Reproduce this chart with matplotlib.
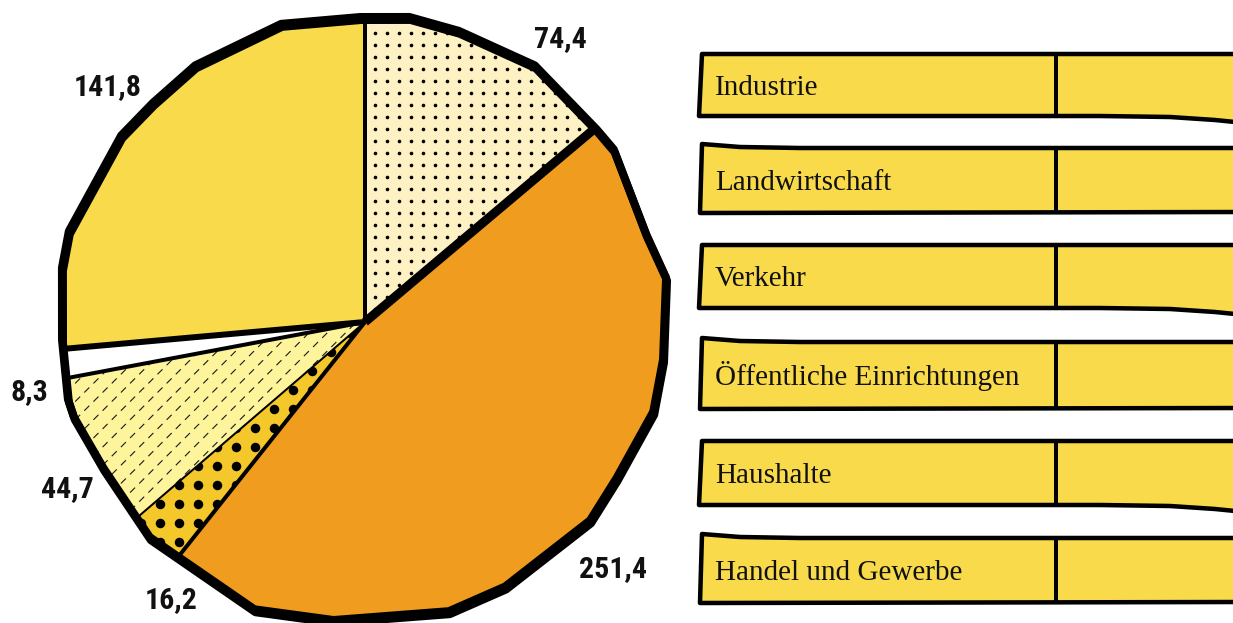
import numpy as np
import matplotlib
matplotlib.use('Agg')
import matplotlib.pyplot as plt
from matplotlib.patches import Polygon, PathPatch
from matplotlib.path import Path
from matplotlib.collections import LineCollection

# Werte im Uhrzeigersinn ab 12 Uhr
werte = [74.4, 251.4, 16.2, 44.7, 8.3, 141.8]
farben = ['#FEF1C4', '#EF9C1F', '#F4C72A', '#FDF49B', '#FFFFFF', '#F9DA4A']
muster = ['punkte', None, 'grosse_punkte', 'striche', None, None]
trennlinien_px = [4, 9, 4, 2, 4, 6]   # Linie vor dem jeweiligen Segment
label_pos = [(560, 47), (613, 577), (171, 608), (67, 497), (29, 400), (108, 95)]

kategorien = ['Industrie', 'Landwirtschaft', 'Verkehr',
              'Öffentliche Einrichtungen', 'Haushalte', 'Handel und Gewerbe']
kasten_oben = [54, 148, 245, 342, 441, 538]
kasten_unten = [116, 212, 308, 408, 505, 602]

B, H = 1233, 623
PT = 0.72  # Punkt pro Pixel bei 100 dpi
mitte = np.array([365.0, 322.0])

# handgezeichneter Umriss (Pixelkoordinaten, Aussenkante)
umriss = np.array([
    (360, 13), (410, 13), (460, 27), (537, 62), (600, 127), (617, 147),
    (650, 233), (670, 277), (667, 360), (657, 413), (620, 480), (593, 523),
    (507, 590), (450, 615), (333, 624), (253, 613), (147, 540), (100, 470),
    (70, 418), (64, 400), (58, 340), (58, 267), (65, 230), (118, 133),
    (150, 100), (193, 62), (280, 20)], dtype=float)
d = umriss - mitte
r = np.hypot(d[:, 0], d[:, 1])
umriss = mitte + d * ((r - 4) / r)[:, None]

fig = plt.figure(figsize=(B / 100, H / 100), dpi=100)
ax = fig.add_axes([0, 0, 1, 1])

# y-Achse zeigt nach unten: startangle=-90 ist oben, counterclock laeuft sichtbar im Uhrzeigersinn
keile, _ = ax.pie(werte, colors=farben, startangle=-90, counterclock=True,
                  center=tuple(mitte), radius=335, wedgeprops=dict(linewidth=0))
ax.set_xlim(0, B)
ax.set_ylim(H, 0)
ax.set_aspect('equal')
ax.axis('off')


def raster(x0, y0, dx, dy, versatz=0.0):
    xs, ys = [], []
    j0 = int(np.floor((0 - y0) / dy)) - 1
    j1 = int(np.ceil((H + 20 - y0) / dy)) + 1
    for j in range(j0, j1):
        off = versatz if j % 2 else 0.0
        start = x0 + off - dx * np.ceil((x0 + off) / dx)
        for x in np.arange(start, 720, dx):
            xs.append(x)
            ys.append(y0 + j * dy)
    return np.array(xs), np.array(ys)


for keil, art in zip(keile, muster):
    if art == 'punkte':
        xs, ys = raster(375, 21, 12, 12)
        sc = ax.scatter(xs, ys, s=(3.6 * PT) ** 2, c='black', linewidths=0, zorder=2)
        sc.set_clip_path(keil)
    elif art == 'grosse_punkte':
        xs, ys = raster(179.3, 541.7, 19, 19)
        sc = ax.scatter(xs, ys, s=(9.5 * PT) ** 2, c='black', linewidths=0, zorder=2)
        sc.set_clip_path(keil)
    elif art == 'striche':
        xs, ys = raster(160, 390, 18.3, 9.1, versatz=9.15)
        seg = [[(x - 2.5, y + 2.5), (x + 2.5, y - 2.5)] for x, y in zip(xs, ys)]
        lc = LineCollection(seg, colors='#1a1a1a', linewidths=0.8, zorder=2)
        lc.set_clip_path(keil)
        ax.add_collection(lc)

# Trennlinien zwischen den Segmenten
anteile = np.array(werte) / np.sum(werte)
grenzen = -90 + 360 * np.concatenate([[0], np.cumsum(anteile)[:-1]])
for winkel, breite in zip(grenzen, trennlinien_px):
    t = np.deg2rad(winkel)
    ax.plot([mitte[0], mitte[0] + 340 * np.cos(t)], [mitte[1], mitte[1] + 340 * np.sin(t)],
            color='black', linewidth=breite * PT, solid_capstyle='butt', zorder=3)


def flaeche(p):
    x, y = p[:, 0], p[:, 1]
    return 0.5 * np.sum(x * np.roll(y, -1) - np.roll(x, -1) * y)


# weisse Maske ausserhalb des Umrisses
rahmen = np.array([(-10, -10), (700, -10), (700, H + 10), (-10, H + 10)], dtype=float)
loch = umriss.copy()
if np.sign(flaeche(rahmen)) == np.sign(flaeche(loch)):
    loch = loch[::-1]
verts = np.vstack([rahmen, rahmen[:1], loch, loch[:1]])
codes = ([Path.MOVETO] + [Path.LINETO] * 3 + [Path.CLOSEPOLY] +
         [Path.MOVETO] + [Path.LINETO] * (len(loch) - 1) + [Path.CLOSEPOLY])
ax.add_patch(PathPatch(Path(verts, codes), facecolor='white', edgecolor='none', zorder=4))

# Umriss mit leichtem Schatten
ax.add_patch(Polygon(umriss + np.array([1.0, 3.0]), closed=True, fill=False, edgecolor='black',
                     linewidth=8 * PT, joinstyle='round', zorder=5))
ax.add_patch(Polygon(umriss, closed=True, fill=False, edgecolor='black',
                     linewidth=8 * PT, joinstyle='round', zorder=5))

# Wertebeschriftung
for wert, (x, y) in zip(werte, label_pos):
    ax.text(x, y, f'{wert:.1f}'.replace('.', ','), ha='center', va='baseline',
            fontsize=21.5, fontweight='bold', fontstretch='condensed',
            family=['Roboto Condensed', 'Roboto', 'DejaVu Sans'], color='#111111', zorder=6)

# Legendenkaesten
for i, (name, t, b) in enumerate(zip(kategorien, kasten_oben, kasten_unten)):
    if i % 2 == 0:
        pts = [(702, t), (1245, t), (1245, b + 7), (1215, b + 4), (1170, b + 1), (1100, b), (699, b)]
    else:
        pts = [(702, t - 4), (740, t - 1), (800, t), (1245, t), (1245, b), (700, b + 1)]
    ax.add_patch(Polygon(pts, closed=True, facecolor='#F9DA4A', edgecolor='black',
                         linewidth=4.5 * PT, joinstyle='round', zorder=5))
    ax.plot([1056, 1056], [t, b], color='black', linewidth=4 * PT, zorder=6)
    ax.text(715, (t + b) / 2 + 10, name, ha='left', va='baseline', fontsize=21,
            family=['Liberation Serif', 'DejaVu Serif'], color='#111111', zorder=6)

fig.savefig('out.png', dpi=100, facecolor='white')
